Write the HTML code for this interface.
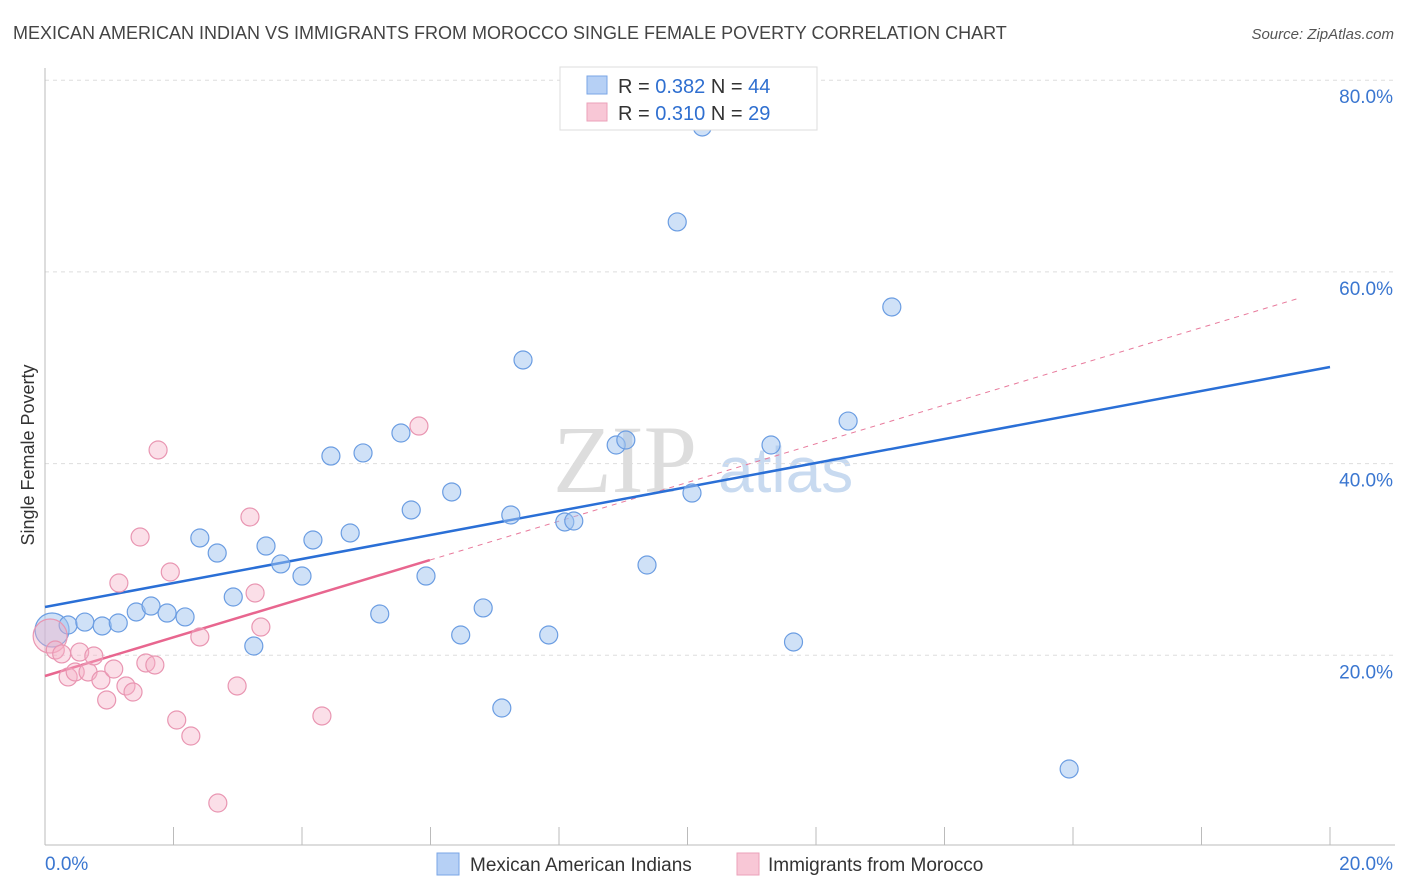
<!DOCTYPE html>
<html><head><meta charset="utf-8"><style>
body{margin:0;background:#fff;font-family:"Liberation Sans",sans-serif}
svg{display:block}
</style></head><body>
<svg id="chart" width="1406" height="892" viewBox="0 0 1406 892" xmlns="http://www.w3.org/2000/svg">
<text x="13" y="39" font-size="18" fill="#444">MEXICAN AMERICAN INDIAN VS IMMIGRANTS FROM MOROCCO SINGLE FEMALE POVERTY CORRELATION CHART</text>
<text x="1394" y="39" font-size="15" fill="#555" font-style="italic" text-anchor="end">Source: ZipAtlas.com</text>
<g>
<text x="553" y="492" font-size="96" font-family="Liberation Serif,serif" fill="#ddd">ZIP</text>
<text x="718" y="492" font-size="64" fill="#c8daf0">atlas</text>
</g>
<g id="grid"></g>
<g id="axes"></g>
<g id="lines"></g>
<g id="pts"></g>
<text transform="translate(34,455) rotate(-90)" font-size="18" fill="#333" text-anchor="middle">Single Female Poverty</text>
<g>
<rect x="560" y="67" width="257" height="63" fill="#fff" stroke="#ddd"/>
<rect x="587" y="76" width="20" height="18" fill="#b6d0f5" stroke="#7aa6e6"/>
<text x="618" y="93" font-size="20" fill="#333">R = <tspan fill="#2f6fd0">0.382</tspan>   N = <tspan fill="#2f6fd0">44</tspan></text>
<rect x="587" y="103" width="20" height="18" fill="#f8c7d6" stroke="#eba2ba"/>
<text x="618" y="120" font-size="20" fill="#333">R = <tspan fill="#2f6fd0">0.310</tspan>   N = <tspan fill="#2f6fd0">29</tspan></text>
</g>
<g>
<rect x="437" y="853" width="22" height="22" fill="#b6d0f5" stroke="#7aa6e6"/>
<text x="470" y="871" font-size="19" fill="#333">Mexican American Indians</text>
<rect x="737" y="853" width="22" height="22" fill="#f8c7d6" stroke="#eba2ba"/>
<text x="768" y="871" font-size="19" fill="#333">Immigrants from Morocco</text>
</g>
</svg>
<script>
const blueX=[0.11,0.36,0.62,0.89,1.14,1.42,1.65,1.90,2.18,2.41,2.68,2.93,3.25,3.44,3.67,4.00,4.17,4.45,4.75,4.95,5.21,5.54,5.70,5.93,6.33,6.47,6.82,7.11,7.25,7.44,7.84,8.09,8.23,8.89,9.04,9.37,9.84,10.07,10.23,11.30,11.65,12.50,13.18,15.94];
const blueY=[22.64,23.16,23.47,23.06,23.37,24.52,25.14,24.41,24.00,32.24,30.67,26.08,20.97,31.40,29.53,28.27,32.03,40.79,32.76,41.11,24.31,43.19,35.16,28.27,37.04,22.12,24.94,14.50,34.64,50.81,22.12,33.91,34.01,41.94,42.46,29.42,65.21,36.93,75.12,41.94,21.39,44.44,56.34,8.14];
const pinkX=[0.08,0.16,0.26,0.36,0.47,0.54,0.67,0.76,0.87,0.96,1.07,1.15,1.26,1.37,1.48,1.57,1.71,1.76,1.95,2.05,2.27,2.41,2.69,2.99,3.19,3.27,3.36,4.31,5.82];
const pinkY=[22.01,20.55,20.14,17.74,18.26,20.34,18.26,19.93,17.42,15.34,18.57,27.54,16.80,16.17,32.34,19.20,18.99,41.42,28.69,13.25,11.58,21.91,4.59,16.80,34.43,26.50,22.95,13.67,43.92];
const blueTrend=[25.04,50.08];
const pinkTrend=[17.84,57.28];
const pinkSolidEnd=5.99, pinkDashEnd=19.53;
const yTicks=[20,40,60,80];
const yTickLabels=["20.0%","40.0%","60.0%","80.0%"];
const xTickVals=[0,2,4,6,8,10,12,14,16,18,20];
const NS="http://www.w3.org/2000/svg";
const sx=v=>45+v*64.25, sy=v=>847-v*9.585;
function mk(t,a,p){const e=document.createElementNS(NS,t);for(const k in a)e.setAttribute(k,a[k]);p.appendChild(e);return e;}
const grid=document.getElementById('grid'),axes=document.getElementById('axes'),lines=document.getElementById('lines'),pts=document.getElementById('pts');
yTicks.forEach((v,i)=>{
 const l=mk('line',{x1:45,x2:1395,y1:sy(v),y2:sy(v),stroke:'#ddd','stroke-dasharray':'4,4'},grid);
 
 
 const t=mk('text',{x:1393,y:sy(v)+23,'font-size':19,fill:'#3a76d0','text-anchor':'end'},axes);
 t.textContent=yTickLabels[i];
 
 
});
mk('line',{x1:45,x2:45,y1:68,y2:845,stroke:'#bbb'},axes);
mk('line',{x1:45,x2:1395,y1:845,y2:845,stroke:'#bbb'},axes);
xTickVals.forEach(v=>{const t=mk('line',{x1:sx(v),x2:sx(v),y1:827,y2:845,stroke:'#bbb'},axes);
 
 });
const xl0=mk('text',{x:45,y:870,'font-size':19,fill:'#3a76d0'},axes);xl0.textContent="0.0%";


const xl1=mk('text',{x:1393,y:870,'font-size':19,fill:'#3a76d0','text-anchor':'end'},axes);xl1.textContent="20.0%";


const pAt=x=>pinkTrend[0]+(pinkTrend[1]-pinkTrend[0])*x/pinkDashEnd;
const pd=mk('line',{x1:sx(pinkSolidEnd),y1:sy(pAt(pinkSolidEnd)),x2:sx(pinkDashEnd),y2:sy(pinkTrend[1]),stroke:'#e87a9c','stroke-width':1,'stroke-dasharray':'5,5'},lines);


function drawPts(X,Y,fill,stroke,name){X.forEach((x,i)=>{
 const c=mk('circle',{cx:sx(x),cy:sy(Y[i]),r:i===0?17:9,fill:fill,stroke:stroke,'stroke-width':1.2},pts);
 
 });}
drawPts(blueX,blueY,'rgba(160,195,240,0.5)','#6b9de2','point-mexican');
drawPts(pinkX,pinkY,'rgba(245,175,198,0.4)','#e996b2','point-morocco');
const bl=mk('line',{x1:sx(0),y1:sy(blueTrend[0]),x2:sx(20),y2:sy(blueTrend[1]),stroke:'#2a6fd6','stroke-width':2.5},lines);


const pl=mk('line',{x1:sx(0),y1:sy(pinkTrend[0]),x2:sx(pinkSolidEnd),y2:sy(pAt(pinkSolidEnd)),stroke:'#e8668f','stroke-width':2.5},lines);


</script>
</body></html>
